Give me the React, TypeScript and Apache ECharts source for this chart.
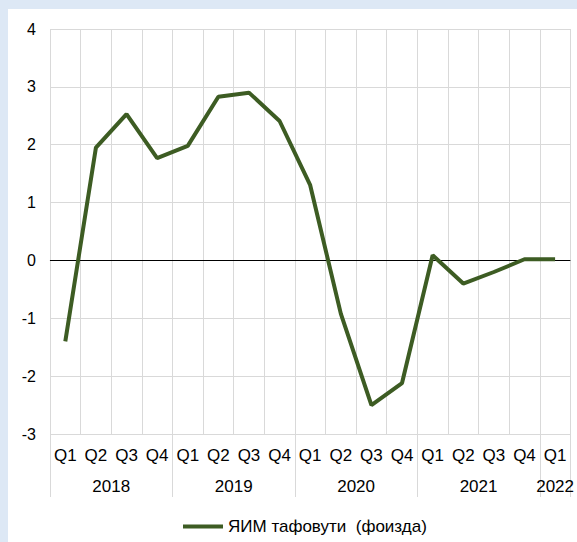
import React, { useEffect, useRef } from "react";
import * as echarts from "echarts";

const quarterLabels = ["Q1", "Q2", "Q3", "Q4", "Q1", "Q2", "Q3", "Q4", "Q1", "Q2", "Q3", "Q4", "Q1", "Q2", "Q3", "Q4", "Q1"];
const yearLabels = ["2018", "2019", "2020", "2021", "2022"];
const quartersPerYear = [4, 4, 4, 4, 1];
const gdpGap = [-1.4, 1.95, 2.53, 1.77, 1.98, 2.83, 2.9, 2.41, 1.3, -0.92, -2.5, -2.12, 0.09, -0.4, -0.2, 0.02, 0.02];
const seriesName = "ЯИМ тафовути  (фоизда)";
const yMin = -3;
const yMax = 4;
const yStep = 1;

const FONT = "'Liberation Sans', Arial, sans-serif";

export default function App() {
  const ref = useRef<HTMLDivElement>(null);

  useEffect(() => {
    if (!ref.current) return;
    const chart = echarts.init(ref.current, undefined, { renderer: "svg" });

    const boundaries: number[] = [0];
    quartersPerYear.forEach((n) => boundaries.push(boundaries[boundaries.length - 1] + n));
    const centers = quartersPerYear.map((n, i) => boundaries[i] + n / 2);

    chart.setOption({
      animation: false,
      backgroundColor: "#ffffff",
      textStyle: { fontFamily: FONT },
      grid: { left: 42, top: 20, right: 6, bottom: 108, containLabel: false },
      legend: {
        data: [{ name: seriesName, icon: "rect" }],
        left: 170,
        top: 504,
        itemWidth: 40,
        itemHeight: 4,
        textStyle: { fontFamily: FONT, fontSize: 17, color: "#000" },
      },
      xAxis: [
        {
          type: "category",
          data: quarterLabels,
          boundaryGap: true,
          axisLine: { show: true, lineStyle: { color: "#d9d9d9", width: 1 } },
          axisTick: { show: false },
          axisLabel: { interval: 0, margin: 13, fontSize: 17, color: "#000", fontFamily: FONT },
          splitLine: { show: true, interval: 0, lineStyle: { color: "#d9d9d9", width: 1 } },
        },
        {
          type: "value",
          position: "bottom",
          min: 0,
          max: boundaries[boundaries.length - 1],
          axisLine: { show: false },
          splitLine: { show: false },
          axisTick: {
            show: true,
            customValues: boundaries,
            length: 63,
            lineStyle: { color: "#d9d9d9", width: 1 },
          },
          axisLabel: {
            customValues: centers,
            margin: 44,
            fontSize: 17,
            color: "#000",
            fontFamily: FONT,
            formatter: (v: number) => {
              const idx = centers.findIndex((c) => Math.abs(c - v) < 1e-6);
              return idx >= 0 ? yearLabels[idx] : "";
            },
          },
        },
      ],
      yAxis: {
        type: "value",
        min: yMin,
        max: yMax,
        interval: yStep,
        axisLine: { show: false },
        axisTick: { show: false },
        axisLabel: { margin: 14, fontSize: 16, color: "#000", fontFamily: FONT },
        splitLine: { show: true, lineStyle: { color: "#d9d9d9", width: 1 } },
      },
      series: [
        {
          name: seriesName,
          type: "line",
          xAxisIndex: 0,
          data: gdpGap,
          symbol: "none",
          lineStyle: { color: "#3d5c23", width: 4 },
          itemStyle: { color: "#3d5c23" },
          markLine: {
            silent: true,
            symbol: ["none", "none"],
            label: { show: false },
            lineStyle: { color: "#000", width: 1, type: "solid" },
            data: [{ yAxis: 0 }],
            z: 1,
          },
          z: 3,
        },
      ],
    });

    return () => chart.dispose();
  }, []);

  return (
    <div style={{ position: "fixed", left: 0, top: 0, width: 577, height: 542, background: "#dde8f5" }}>
      <div ref={ref} style={{ position: "absolute", left: 8, top: 9, width: 569, height: 533 }} />
    </div>
  );
}
